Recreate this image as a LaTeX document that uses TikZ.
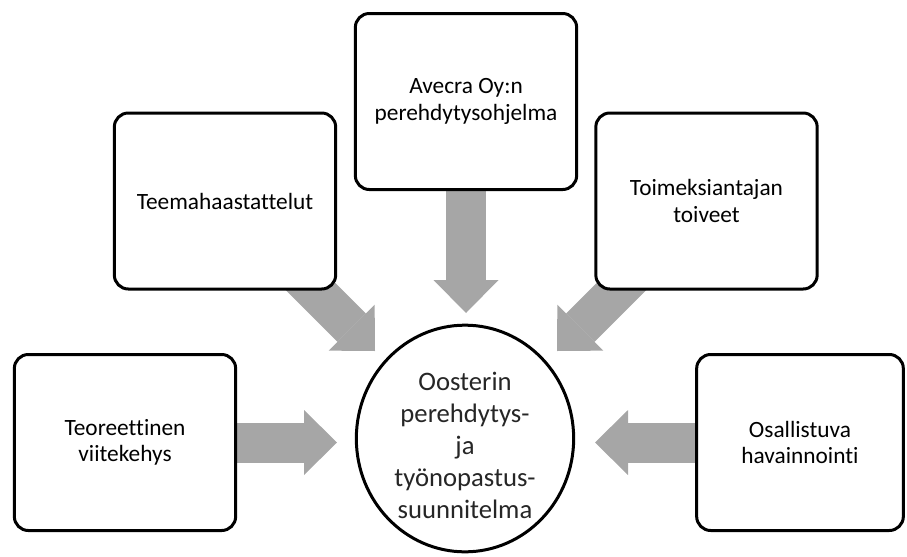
\documentclass[tikz,border=0pt]{standalone}
\usepackage{fontspec}
\setmainfont{Carlito}[Ligatures=CommonOff]
\usetikzlibrary{shapes.geometric,arrows.meta,backgrounds}
\definecolor{arrowgray}{RGB}{166,166,166}
\begin{document}
\begin{tikzpicture}[x=0.75pt,y=-0.75pt,
        srcbox/.style={draw,line width=2.25pt,rounded corners=10.5pt,fill=white,
            minimum width=166pt,minimum height=132pt,align=center,
            font=\fontsize{17.5}{20}\selectfont},
        goal/.style={ellipse,draw,line width=2.25pt,fill=white,
            minimum width=163pt,minimum height=170pt},
        goaltext/.style={align=center,text=black!85,yshift=-5pt,
            font=\fontsize{20}{24}\selectfont},
        feed/.style={arrowgray,line width=30pt,
            -{Triangle[length=24.75pt,width=48.75pt,line width=0pt]}}]
                \useasboundingbox
                    (0,0) rectangle (907,557);
                % sources
                \node[srcbox] (teor) at (125,442.5) {Teoreettinen\\viitekehys};
                \node[srcbox] (teema) at (225,201) {Teemahaastattelut};
                \node[srcbox] (avecra) at (466,101.5) {Avecra Oy:n\\perehdytysohjelma};
                \node[srcbox] (toive) at (706.5,201) {Toimeksiantajan\\toiveet};
                \node[srcbox,minimum width=155pt] (havain) at (800,442.5) {Osallistuva\\havainnointi};
                % goal
                \node[goal,label={[goaltext]center:Oosterin\\perehdytys-\\ja\\työnopastus-\\suunnitelma}]
                    (plan) at (465,438.5) {};
                % arrow tips
                \coordinate (tipW) at (337,442.5);
                \coordinate (tipNW) at (375,351);
                \coordinate (tipN) at (466,313);
                \coordinate (tipNE) at (557,351);
                \coordinate (tipE) at (595,442.5);
                \coordinate (tailNW) at (294,270);
                \coordinate (tailNE) at (638,270);
                \begin{scope}[on background layer]
                    \draw[feed] (teor.east) -- (tipW);
                    \draw[feed] (tailNW) -- (tipNW);
                    \draw[feed] (avecra.south) -- (tipN);
                    \draw[feed] (tailNE) -- (tipNE);
                    \draw[feed] (havain.west) -- (tipE);
                \end{scope}
            \end{tikzpicture}
\end{document}
